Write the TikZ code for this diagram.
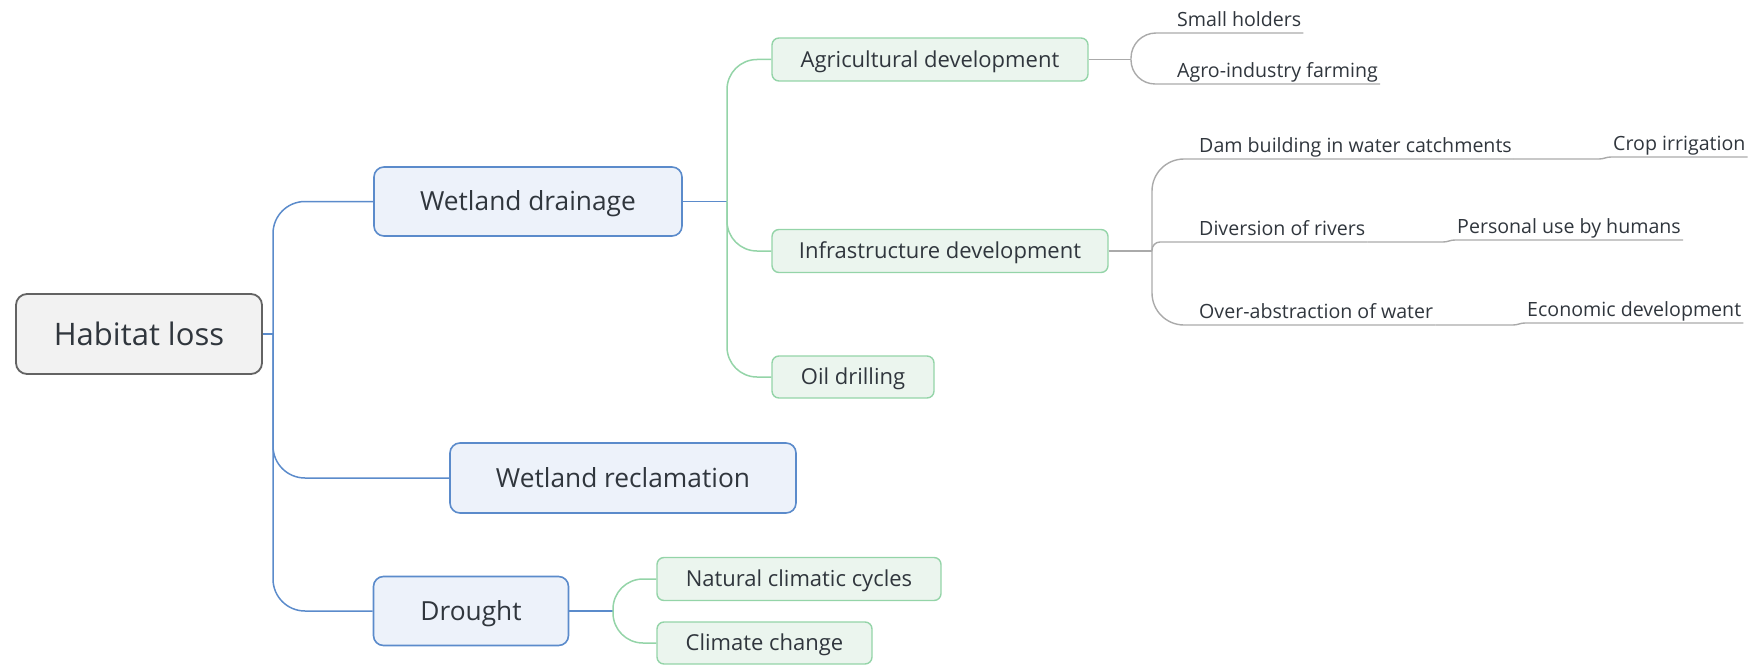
\documentclass[tikz,border=0pt]{standalone}
\usepackage{fontspec}
\setmainfont{Open Sans}
\definecolor{bluel}{HTML}{5B8BCB}
\definecolor{bluef}{HTML}{EDF2FA}
\definecolor{greenl}{HTML}{94D4A8}
\definecolor{greenf}{HTML}{EBF5EE}
\definecolor{grayl}{HTML}{AAAAAA}
\definecolor{rootf}{HTML}{F2F2F2}
\definecolor{rootl}{HTML}{636363}
\definecolor{txt}{HTML}{30363D}
\begin{document}
\begin{tikzpicture}[x=1pt,y=-1pt,
  boxtext/.style={text depth=0pt, inner sep=0pt, text=txt},
  root/.style={boxtext, text height=22.1pt, draw=rootl, fill=rootf, line width=1.8pt, rounded corners=11pt, font=\fontsize{31}{36}\selectfont},
  lvone/.style={boxtext, text height=18.8pt, draw=bluel, fill=bluef, line width=1.6pt, rounded corners=10pt, font=\fontsize{26.3}{31}\selectfont},
  lvtwo/.style={boxtext, text height=15.7pt, draw=greenl, fill=greenf, line width=1.4pt, rounded corners=7pt, font=\fontsize{22}{26}\selectfont},
  leaf/.style={anchor=base west, inner xsep=2pt, inner ysep=0pt, text=txt, font=\fontsize{19.6}{23}\selectfont},
  bl/.style={draw=bluel, line width=1.5pt},
  gr/.style={draw=greenl, line width=1.5pt},
  gy/.style={draw=grayl, line width=1.4pt}
]
\useasboundingbox (0,0) rectangle (1760,666);

% main nodes
\node[root, minimum width=246pt, minimum height=80pt] (HL) at (139,334) {Habitat loss};
\node[lvone, minimum width=308pt, minimum height=69pt] (WD) at (528,201.5) {Wetland drainage};
\node[lvone, minimum width=346pt, minimum height=70pt] (WR) at (623,478) {Wetland reclamation};
\node[lvone, minimum width=195pt, minimum height=69pt] (DR) at (471,611) {Drought};

\node[lvtwo, minimum width=316pt, minimum height=43pt] (AD) at (930,59.5) {Agricultural development};
\node[lvtwo, minimum width=336pt, minimum height=43pt] (ID) at (940,251) {Infrastructure development};
\node[lvtwo, minimum width=162pt, minimum height=42pt] (OD) at (853,377) {Oil drilling};
\node[lvtwo, minimum width=284pt, minimum height=43pt] (NC) at (799,579) {Natural climatic cycles};
\node[lvtwo, minimum width=215pt, minimum height=42pt] (CC) at (764.5,643) {Climate change};

% leaves
\node[leaf] (SH) at (1175,27) {Small holders};
\node[leaf] (AG) at (1175,78) {Agro-industry farming};
\node[leaf] (DB) at (1197,152) {Dam building in water catchments};
\node[leaf] (CI) at (1611,150) {Crop irrigation};
\node[leaf] (DV) at (1197,235) {Diversion of rivers};
\node[leaf] (PU) at (1455,233) {Personal use by humans};
\node[leaf] (OA) at (1197,318) {Over-abstraction of water};
\node[leaf] (ED) at (1525,316) {Economic development};

% junctions
\coordinate (bt) at (273,334);
\coordinate (gt) at (727,201.5);
\coordinate (aj) at (1131,59.5);
\coordinate (ij) at (1152,251);
\coordinate (dj) at (613,611);

% blue trunk
\draw[bl] (HL.east) -- (bt);
\draw[bl, rounded corners=32pt] (bt) |- (WD.west);
\draw[bl, rounded corners=32pt] (bt) |- (WR.west);
\draw[bl, rounded corners=32pt] (bt) |- (DR.west);

% wetland drainage branch
\draw[bl] (WD.east) -- (gt);
\draw[gr, rounded corners=30pt] (gt) |- (AD.west);
\draw[gr, rounded corners=30pt] (gt) |- (ID.west);
\draw[gr, rounded corners=30pt] (gt) |- (OD.west);

% drought branch
\draw[bl] (DR.east) -- (dj);
\draw[gr, rounded corners=30pt] (dj) |- (NC.west);
\draw[gr, rounded corners=30pt] (dj) |- (CC.west);

% agricultural leaves
\draw[gy] (AD.east) -- (aj);
\draw[gy, rounded corners=25pt] (aj) |- ([yshift=-6pt]SH.base east);
\draw[gy, rounded corners=24pt] (aj) |- ([yshift=-6pt]AG.base east);

% infrastructure leaves
\draw[gy] (ID.east) -- (ij);
\draw[gy, rounded corners=32pt] (ij) |- ([yshift=-7pt]DB.base east);
\draw[gy, rounded corners=8pt] (ij) |- ([yshift=-7pt]DV.base east);
\draw[gy, rounded corners=32pt] (ij) |- ([yshift=-7pt]OA.base east);

\draw[gy] ([yshift=-7pt]DB.base east) -- ([xshift=-12pt,yshift=-9pt]CI.base west) to[out=0,in=180] ([yshift=-7pt]CI.base west) -- ([yshift=-7pt]CI.base east);
\draw[gy] ([yshift=-7pt]DV.base east) -- ([xshift=-12pt,yshift=-9pt]PU.base west) to[out=0,in=180] ([yshift=-7pt]PU.base west) -- ([yshift=-7pt]PU.base east);
\draw[gy] ([yshift=-7pt]OA.base east) -- ([xshift=-12pt,yshift=-9pt]ED.base west) to[out=0,in=180] ([yshift=-7pt]ED.base west) -- ([yshift=-7pt]ED.base east);
\end{tikzpicture}
\end{document}
